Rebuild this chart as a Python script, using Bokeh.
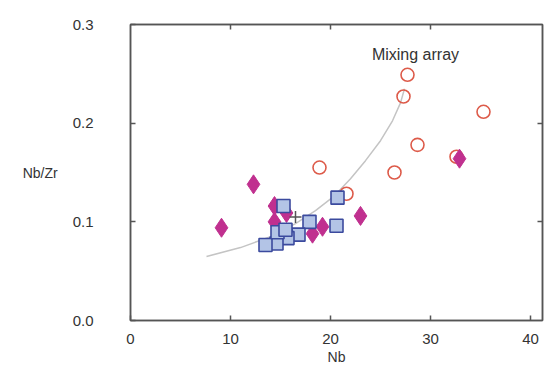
from bokeh.plotting import figure
from bokeh.models import FixedTicker, LinearAxis, Label, Range1d, CustomJSTickFormatter
from bokeh.embed import file_html
from bokeh.resources import INLINE

# ---- data ----
circle_nb = [27.7, 27.3, 35.3, 28.7, 32.6, 18.9, 26.4, 21.6]
circle_ratio = [0.249, 0.227, 0.2115, 0.178, 0.166, 0.155, 0.150, 0.1285]

diamond_nb = [9.1, 12.3, 14.4, 14.4, 15.6, 18.2, 19.2, 23.0, 32.9]
diamond_ratio = [0.094, 0.138, 0.116, 0.100, 0.109, 0.088, 0.095, 0.106, 0.164]

square_nb = [15.3, 20.7, 17.9, 20.6, 16.8, 15.7, 14.6, 13.5, 14.7, 15.5]
square_ratio = [0.116, 0.1245, 0.100, 0.096, 0.087, 0.0835, 0.078, 0.0765, 0.0895, 0.092]

cross_nb = [16.5]
cross_ratio = [0.105]

mix_nb = [7.6, 11.0, 14.0, 16.5, 18.5, 20.3, 22.0, 23.5, 25.0, 26.2, 27.0, 27.4]
mix_ratio = [0.0648, 0.0739, 0.085, 0.0982, 0.1113, 0.1255, 0.1437, 0.162, 0.1822, 0.2024, 0.2206, 0.2348]

x_ticks = [0, 10, 20, 30, 40]
y_ticks = [0.0, 0.1, 0.2, 0.3]
mix_label = "Mixing array"
x_title = "Nb"
y_title = "Nb/Zr"

FONT = "Liberation Sans"
TXT = "#333333"
FRAME = "#555555"

p = figure(width=550, height=368, output_backend="svg", toolbar_location=None,
           x_range=Range1d(0, 41.2), y_range=Range1d(0, 0.3),
           min_border_left=130, min_border_right=8, min_border_top=24, min_border_bottom=48,
           background_fill_color="white", border_fill_color="white")
p.grid.visible = False
p.outline_line_color = FRAME
p.outline_line_width = 1.5

for ax in (p.xaxis[0], p.yaxis[0]):
    ax.axis_line_color = FRAME
    ax.axis_line_width = 1.5
    ax.major_tick_in = 5
    ax.major_tick_out = 0
    ax.major_tick_line_color = FRAME
    ax.major_tick_line_width = 1.5
    ax.minor_tick_line_color = None
    ax.major_label_text_font = FONT
    ax.major_label_text_font_size = "15px"
    ax.major_label_text_color = TXT
    ax.axis_label_text_font = FONT
    ax.axis_label_text_font_size = "14px"
    ax.axis_label_text_font_style = "normal"
    ax.axis_label_text_color = TXT

p.xaxis[0].ticker = FixedTicker(ticks=x_ticks)
p.xaxis[0].major_label_standoff = 13
p.xaxis[0].axis_label = x_title
p.xaxis[0].axis_label_standoff = 2

p.yaxis[0].ticker = FixedTicker(ticks=y_ticks)
p.yaxis[0].formatter = CustomJSTickFormatter(code="return tick.toFixed(1);")
p.yaxis[0].major_label_standoff = 37
p.yaxis[0].axis_label = y_title
p.yaxis[0].axis_label_standoff = 12
p.yaxis[0].axis_label_orientation = "horizontal"

top = LinearAxis(ticker=FixedTicker(ticks=[10, 20, 30]), major_label_text_font_size="1px",
                 major_label_text_color=None,
                 major_label_standoff=0, major_tick_in=5, major_tick_out=0,
                 major_tick_line_color=FRAME, major_tick_line_width=1.5,
                 minor_tick_line_color=None, axis_line_color=FRAME, axis_line_width=1.5)
right = LinearAxis(ticker=FixedTicker(ticks=[0.1, 0.2]), major_label_text_font_size="1px",
                   major_label_text_color=None,
                   major_label_standoff=0, major_tick_in=5, major_tick_out=0,
                   major_tick_line_color=FRAME, major_tick_line_width=1.5,
                   minor_tick_line_color=None, axis_line_color=FRAME, axis_line_width=1.5)
p.add_layout(top, "above")
p.add_layout(right, "right")

# mixing array curve
p.line(mix_nb, mix_ratio, line_color="#c4c4c4", line_width=1.5)

# circles (open)
p.scatter(circle_nb, circle_ratio, marker="circle", size=13, fill_color=None,
          line_color="#dd5b4a", line_width=1.6)
# diamonds
p.scatter(diamond_nb, diamond_ratio, marker="diamond", size=19, fill_color="#c0308f",
          line_color="#c0308f", line_width=1)
# squares
p.scatter(square_nb, square_ratio, marker="square", size=13, fill_color="#b3c4e6",
          line_color="#3b4a9e", line_width=1.6)
# cross
p.scatter(cross_nb, cross_ratio, marker="cross", size=12, line_color="#555555", line_width=1.5)

p.add_layout(Label(x=28.5, y=0.270, text=mix_label, text_align="center", text_baseline="middle",
                   text_font=FONT, text_font_size="16px", text_color=TXT))

open("out.html", "w").write(file_html(p, INLINE))
